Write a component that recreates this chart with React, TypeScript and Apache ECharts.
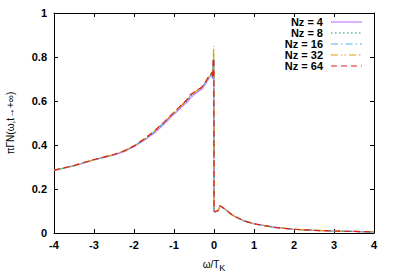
import React, { useEffect, useRef } from "react";
import * as echarts from "echarts";

// shared omega/T_K sample positions
const xs = [
  -4, -3.5, -3, -2.5, -2.25, -2, -1.75, -1.5, -1.25, -1, -0.75, -0.63, -0.6, -0.5, -0.4, -0.3,
  -0.2, -0.12, -0.08, -0.05, -0.03, -0.02, -0.005, 0.002, 0.03, 0.06, 0.1, 0.15,
  0.2, 0.3, 0.4, 0.5, 0.75, 1, 1.5, 2, 2.5, 3, 3.5, 4,
];

const nz4 = [
  0.284, 0.305, 0.332, 0.355, 0.37, 0.392, 0.42, 0.453, 0.494, 0.54, 0.583, 0.602, 0.612, 0.628, 0.642, 0.655,
  0.68, 0.705, 0.712, 0.72, 0.7, 0.77, 0.785, 0.1, 0.095, 0.1, 0.1, 0.122,
  0.118, 0.105, 0.09, 0.077, 0.055, 0.042, 0.026, 0.017, 0.012, 0.009, 0.007, 0.005,
];
const nz8 = [
  0.285, 0.306, 0.333, 0.356, 0.372, 0.395, 0.425, 0.459, 0.501, 0.546, 0.59, 0.61, 0.622, 0.636, 0.649, 0.661,
  0.688, 0.712, 0.718, 0.726, 0.705, 0.78, 0.79, 0.1, 0.096, 0.1, 0.101, 0.123,
  0.118, 0.105, 0.09, 0.077, 0.055, 0.042, 0.026, 0.017, 0.012, 0.009, 0.007, 0.005,
];
const nz16 = [
  0.285, 0.306, 0.333, 0.356, 0.372, 0.395, 0.425, 0.46, 0.502, 0.547, 0.591, 0.612, 0.624, 0.637, 0.65, 0.662,
  0.689, 0.713, 0.719, 0.727, 0.706, 0.78, 0.795, 0.1, 0.096, 0.1, 0.101, 0.123,
  0.118, 0.105, 0.09, 0.077, 0.055, 0.042, 0.026, 0.017, 0.012, 0.009, 0.007, 0.005,
];
const nz32 = [
  0.285, 0.306, 0.333, 0.357, 0.373, 0.396, 0.426, 0.461, 0.503, 0.548, 0.592, 0.613, 0.626, 0.638, 0.651, 0.663,
  0.69, 0.715, 0.72, 0.728, 0.71, 0.79, 0.85, 0.1, 0.096, 0.1, 0.101, 0.124,
  0.118, 0.105, 0.09, 0.077, 0.055, 0.042, 0.026, 0.017, 0.012, 0.009, 0.007, 0.005,
];
const nz64 = [
  0.286, 0.307, 0.334, 0.357, 0.373, 0.396, 0.427, 0.462, 0.504, 0.549, 0.593, 0.614, 0.628, 0.639, 0.652, 0.664,
  0.69, 0.716, 0.722, 0.73, 0.705, 0.785, 0.795, 0.1, 0.096, 0.1, 0.101, 0.124,
  0.118, 0.105, 0.09, 0.077, 0.055, 0.042, 0.026, 0.017, 0.012, 0.009, 0.007, 0.005,
];

const seriesNames = ["Nz = 4", "Nz = 8", "Nz = 16", "Nz = 32", "Nz = 64"];
const seriesValues = [nz4, nz8, nz16, nz32, nz64];
const colors = ["#c77dff", "#009e73", "#56b4e9", "#e69f00", "#e51e10"];
const dashes: (number[] | "solid")[] = ["solid", [1.5, 2.5], [7, 3, 1.5, 3], [7, 3, 1.5, 2, 1.5, 3], [6, 4]];

const yTitle = "πΓN(ω,t→+∞)";

export default function App() {
  const ref = useRef<HTMLDivElement>(null);
  useEffect(() => {
    if (!ref.current) return;
    const chart = echarts.init(ref.current, undefined, { renderer: "svg" });
    const font = "Liberation Sans";
    const labelStyle = { color: "#000", fontWeight: "bold" as const, fontSize: 11, fontFamily: font };
    const legendGraphics: any[] = [];
    seriesNames.forEach((n, i) => {
      const y = 22 + i * 11;
      legendGraphics.push({
        type: "text",
        x: 323,
        y,
        style: { text: n, textAlign: "right", textVerticalAlign: "middle", fill: "#000", font: `bold 11px ${font}` },
      });
      legendGraphics.push({
        type: "line",
        shape: { x1: 331, y1: y, x2: 362, y2: y },
        style: { stroke: colors[i], lineWidth: 1.2, lineDash: dashes[i] === "solid" ? null : dashes[i] },
      });
    });
    chart.setOption({
      animation: false,
      grid: { left: 54, right: 26, top: 13, bottom: 47 },
      xAxis: [
        {
          type: "value",
          min: -4,
          max: 4,
          interval: 1,
          name: "{a|ω/T}{b|K}",
          nameLocation: "middle",
          nameGap: 24,
          nameTextStyle: {
            rich: {
              a: { fontSize: 10, fontFamily: font, color: "#000" },
              b: { fontSize: 9, fontFamily: font, color: "#000", padding: [6, 0, 0, 0] },
            },
          },
          axisLine: { onZero: false, lineStyle: { color: "#000", width: 1 } },
          axisTick: { inside: true, length: 4, lineStyle: { color: "#000" } },
          axisLabel: { ...labelStyle, margin: 6 },
          splitLine: { show: false },
        },
        {
          type: "value",
          position: "top",
          min: -4,
          max: 4,
          interval: 1,
          axisLine: { onZero: false, lineStyle: { color: "#000", width: 1 } },
          axisTick: { inside: true, length: 4, lineStyle: { color: "#000" } },
          axisLabel: { show: false },
          splitLine: { show: false },
        },
      ],
      yAxis: [
        {
          type: "value",
          min: 0,
          max: 1,
          interval: 0.2,
          axisLine: { show: true, onZero: false, lineStyle: { color: "#000", width: 1 } },
          axisTick: { show: true, inside: true, length: 4, lineStyle: { color: "#000" } },
          axisLabel: { ...labelStyle, margin: 7 },
          splitLine: { show: false },
        },
        {
          type: "value",
          position: "right",
          min: 0,
          max: 1,
          interval: 0.2,
          axisLine: { show: true, onZero: false, lineStyle: { color: "#000", width: 1 } },
          axisTick: { show: true, inside: true, length: 4, lineStyle: { color: "#000" } },
          axisLabel: { show: false },
          splitLine: { show: false },
        },
      ],
      series: seriesNames.map((n, i) => ({
        name: n,
        type: "line",
        xAxisIndex: 0,
        yAxisIndex: 0,
        showSymbol: false,
        symbol: "none",
        data: xs.map((x, j) => [x, seriesValues[i][j]]),
        lineStyle: { color: colors[i], width: 1.2, type: dashes[i] },
        itemStyle: { color: colors[i] },
        z: 2 + i,
      })),
      graphic: [
        {
          type: "text",
          x: 10,
          y: 123,
          rotation: Math.PI / 2,
          style: {
            text: yTitle,
            textAlign: "center",
            textVerticalAlign: "middle",
            fill: "#000",
            font: `10px ${font}`,
          },
        },
        ...legendGraphics,
      ],
    });
    return () => chart.dispose();
  }, []);
  return (
    <div
      ref={ref}
      style={{ position: "absolute", left: 0, top: 0, width: 400, height: 280 }}
    />
  );
}
